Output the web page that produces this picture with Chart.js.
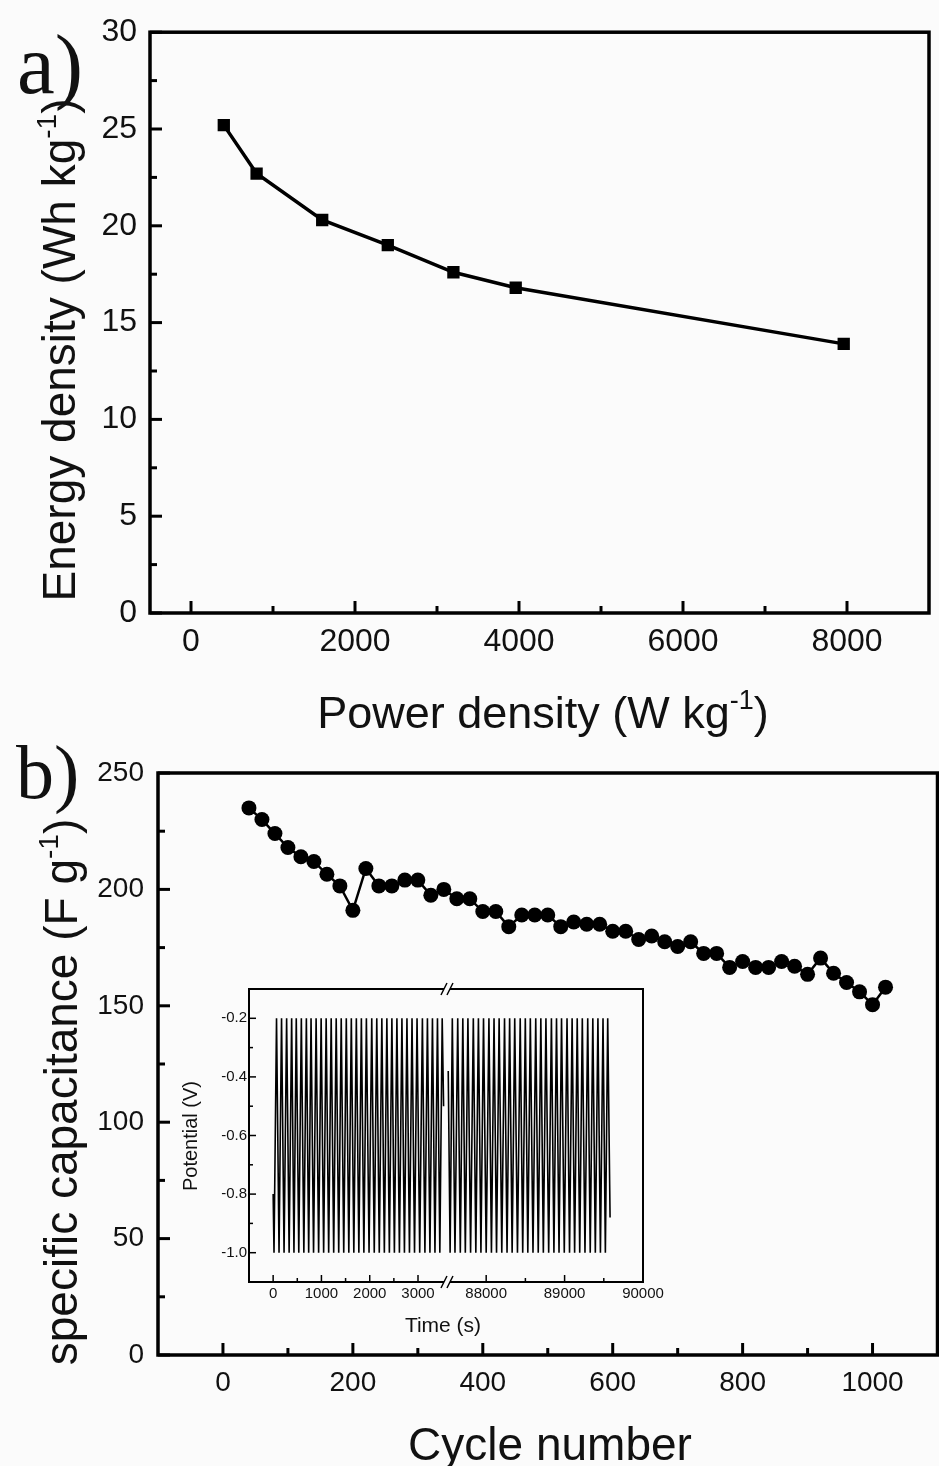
<!DOCTYPE html>
<html>
<head>
<meta charset="utf-8">
<script src="https://cdn.jsdelivr.net/npm/chart.js@4.4.0/dist/chart.umd.min.js"></script>
<style>
  html, body { margin: 0; padding: 0; background: #fbfbfb; overflow: hidden; width: 939px; height: 1466px; }
  canvas { position: absolute; }
  #chartA { left: 0; top: 0; }
  #chartB { left: 0; top: 740px; }
  #inset { left: 160px; top: 975px; }
</style>
</head>
<body>
<canvas id="chartA" width="939" height="740"></canvas>
<canvas id="chartB" width="945" height="726"></canvas>
<canvas id="inset" width="510" height="370"></canvas>
<script>
// a) energy density vs power density
const powerDensity = [400, 800, 1600, 2400, 3200, 3960, 7960];
const energyDensity = [25.2, 22.7, 20.3, 19.0, 17.6, 16.8, 13.9];
const aXTicks = [0, 2000, 4000, 6000, 8000];
const aXMinor = [1000, 3000, 5000, 7000];
const aYTicks = [0, 5, 10, 15, 20, 25, 30];
const aYMinor = [2.5, 7.5, 12.5, 17.5, 22.5, 27.5];

// b) cycling stability
const cycleNumber = [40, 60, 80, 100, 120, 140, 160, 180, 200, 220, 240, 260, 280, 300, 320, 340, 360, 380, 400, 420,
  440, 460, 480, 500, 520, 540, 560, 580, 600, 620, 640, 660, 680, 700, 720, 740, 760, 780, 800, 820,
  840, 860, 880, 900, 920, 940, 960, 980, 1000, 1020];
const capacitance = [235, 230, 224, 218, 214, 212, 206.5, 201.5, 191, 209, 201.5, 201.5, 204, 204, 197.5, 200, 196, 196, 190.5, 190.5,
  184, 189, 189, 189, 184, 186, 185, 185, 182, 182, 178.5, 180, 177.5, 175.5, 177.5, 172.5, 172.5, 166.5, 169, 166.5,
  166.5, 169, 167, 163.5, 170.5, 164, 160, 156, 150.5, 158];
const bXTicks = [0, 200, 400, 600, 800, 1000];
const bXMinor = [100, 300, 500, 700, 900];
const bYTicks = [0, 50, 100, 150, 200, 250];
const bYMinor = [25, 75, 125, 175, 225];

// inset: galvanostatic charge/discharge, turning points (s)
const V_LOW = -1.0;
const V_HIGH = -0.2;
const earlyStart = [0, -0.8];
const earlyTroughs = [18, 122, 226, 331, 431, 531, 636, 736, 837, 942, 1046, 1150, 1254, 1358, 1462, 1567, 1671,
  1775, 1879, 1986, 2094, 2198, 2303, 2407, 2511, 2615, 2719, 2823, 2928, 3035, 3143, 3247, 3351, 3452];
const earlyPeaks = [70, 174, 279, 383, 479, 584, 688, 785, 890, 994, 1098, 1202, 1306, 1410, 1515, 1619, 1723,
  1827, 1931, 2042, 2146, 2251, 2355, 2459, 2563, 2667, 2771, 2876, 2980, 3091, 3195, 3299, 3403, 3501];
const earlyEnd = [3530, -0.5];
const lateStart = [87516, -0.38];
const lateTroughs = [87540, 87602, 87670, 87734, 87801, 87868, 87933, 88000, 88067, 88132, 88199, 88266, 88331,
  88399, 88466, 88531, 88597, 88664, 88729, 88797, 88864, 88929, 88996, 89063, 89128, 89193, 89260, 89327, 89392,
  89457, 89520];
const latePeaks = [87568, 87637, 87702, 87767, 87836, 87901, 87966, 88035, 88100, 88165, 88234, 88299, 88364,
  88434, 88499, 88563, 88632, 88697, 88762, 88832, 88897, 88961, 89031, 89096, 89161, 89226, 89295, 89360, 89425,
  89490, 89550];
const lateEnd = [89580, -0.88];
const insetEarlyTicks = [0, 1000, 2000, 3000];
const insetEarlyMinor = [500, 1500, 2500];
const insetLateTicks = [88000, 89000, 90000];
const insetLateMinor = [88500, 89500];
const insetYTicks = [-1.0, -0.8, -0.6, -0.4, -0.2];
const insetYMinor = [-0.9, -0.7, -0.5, -0.3];

const SANS = '"Liberation Sans", Arial, sans-serif';
const SERIF = '"Liberation Serif", "Times New Roman", serif';
Chart.defaults.font.family = SANS;
Chart.defaults.color = '#111';
Chart.defaults.animation = false;
Chart.defaults.plugins.legend.display = false;
Chart.defaults.plugins.tooltip.enabled = false;

function toPoints(xs, ys) {
  return xs.map((x, i) => ({ x: x, y: ys[i] }));
}

function waveform(start, troughs, peaks, end) {
  const pts = [{ x: start[0], y: start[1] }];
  troughs.forEach((t, i) => {
    pts.push({ x: t, y: V_LOW });
    pts.push({ x: peaks[i], y: V_HIGH });
  });
  pts.push({ x: end[0], y: end[1] });
  return pts;
}

// linear axis with fixed tick values and a fixed box size
function axis(o) {
  const a = {
    type: 'linear',
    min: o.min,
    max: o.max,
    afterBuildTicks: s => { s.ticks = o.ticks.map(v => ({ value: v })); },
    afterFit: s => { if (s.isHorizontal()) s.height = o.size; else s.width = o.size; },
    grid: { display: false, drawTicks: false },
    border: { display: false },
    ticks: {
      font: { size: o.font },
      padding: o.pad,
      maxRotation: 0,
      autoSkip: false,
      color: '#111',
      callback: o.fmt || (v => String(v))
    }
  };
  return Object.assign(a, o.extra || {});
}

// text with superscript pieces, optionally rotated
function richText(ctx, parts, x, y, size, rotated) {
  ctx.save();
  ctx.translate(x, y);
  if (rotated) ctx.rotate(-Math.PI / 2);
  ctx.fillStyle = '#111';
  ctx.textBaseline = 'alphabetic';
  ctx.textAlign = 'left';
  const fonts = parts.map(p => (p.sup ? Math.round(size * 0.6) : size) + 'px ' + SANS);
  const widths = parts.map((p, i) => { ctx.font = fonts[i]; return ctx.measureText(p.t).width; });
  let cx = -widths.reduce((s, w) => s + w, 0) / 2;
  parts.forEach((p, i) => {
    ctx.font = fonts[i];
    ctx.fillText(p.t, cx, p.sup ? -size * 0.42 : 0);
    cx += widths[i];
  });
  ctx.restore();
}

function panelLabel(ctx, text, x, y, size) {
  ctx.save();
  ctx.font = size + 'px ' + SERIF;
  ctx.fillStyle = '#111';
  ctx.textBaseline = 'alphabetic';
  ctx.fillText(text, x, y);
  ctx.restore();
}

// frame box, inward tick marks, axis titles
function framePlugin(cfg) {
  return {
    id: 'frameTicks',
    afterDatasetsDraw(chart) {
      const ctx = chart.ctx;
      const a = chart.chartArea;
      ctx.save();
      ctx.strokeStyle = '#000';
      ctx.lineCap = 'butt';
      ctx.lineWidth = cfg.tickWidth;
      cfg.marks.forEach(m => {
        const s = chart.scales[m.id];
        [[m.major, cfg.majorLen], [m.minor, cfg.minorLen]].forEach(([vals, len]) => {
          vals.forEach(v => {
            const p = s.getPixelForValue(v);
            ctx.beginPath();
            if (s.isHorizontal()) {
              ctx.moveTo(p, a.bottom);
              ctx.lineTo(p, a.bottom - len);
            } else {
              ctx.moveTo(a.left, p);
              ctx.lineTo(a.left + len, p);
            }
            ctx.stroke();
          });
        });
      });
      ctx.lineWidth = cfg.frameWidth;
      if (cfg.breakAfter) {
        const xb = chart.scales[cfg.breakAfter].right;
        const g = 3;
        ctx.beginPath();
        ctx.moveTo(xb - g, a.top);
        ctx.lineTo(a.left, a.top);
        ctx.lineTo(a.left, a.bottom);
        ctx.lineTo(xb - g, a.bottom);
        ctx.moveTo(xb + g, a.bottom);
        ctx.lineTo(a.right, a.bottom);
        ctx.lineTo(a.right, a.top);
        ctx.lineTo(xb + g, a.top);
        ctx.stroke();
        ctx.lineWidth = 1.5;
        [a.top, a.bottom].forEach(y => {
          [-g, g].forEach(dx => {
            ctx.beginPath();
            ctx.moveTo(xb + dx - 3, y + 6);
            ctx.lineTo(xb + dx + 3, y - 6);
            ctx.stroke();
          });
        });
      } else {
        ctx.strokeRect(a.left, a.top, a.right - a.left, a.bottom - a.top);
      }
      ctx.restore();
    },
    afterDraw(chart) {
      if (cfg.labels) cfg.labels(chart.ctx);
    }
  };
}

// ---- chart a ----
new Chart(document.getElementById('chartA'), {
  type: 'scatter',
  data: {
    datasets: [{
      data: toPoints(powerDensity, energyDensity),
      showLine: true,
      borderColor: '#000',
      backgroundColor: '#000',
      borderWidth: 3.5,
      pointStyle: 'rect',
      pointRadius: 8.7,
      pointBorderWidth: 0
    }]
  },
  options: {
    responsive: false,
    devicePixelRatio: 1,
    layout: { padding: { top: 31, right: 10, left: 0, bottom: 0 } },
    scales: {
      x: axis({ min: -500, max: 9000, ticks: aXTicks, size: 127, font: 32, pad: 10 }),
      y: axis({ min: 0, max: 30, ticks: aYTicks, size: 150, font: 32, pad: 13 })
    }
  },
  plugins: [framePlugin({
    tickWidth: 3, frameWidth: 3.5, majorLen: 12, minorLen: 7,
    marks: [
      { id: 'x', major: aXTicks, minor: aXMinor },
      { id: 'y', major: aYTicks, minor: aYMinor }
    ],
    labels: ctx => {
      panelLabel(ctx, 'a)', 17, 93, 85);
      richText(ctx, [{ t: 'Energy density (Wh kg' }, { t: '-1', sup: true }, { t: ')' }], 75, 350, 46, true);
      richText(ctx, [{ t: 'Power density (W kg' }, { t: '-1', sup: true }, { t: ')' }], 543, 728, 45, false);
    }
  })]
});

// ---- chart b ----
new Chart(document.getElementById('chartB'), {
  type: 'scatter',
  data: {
    datasets: [{
      data: toPoints(cycleNumber, capacitance),
      showLine: true,
      borderColor: '#000',
      backgroundColor: '#000',
      borderWidth: 2.5,
      pointStyle: 'circle',
      pointRadius: 7.5,
      pointBorderWidth: 0
    }]
  },
  options: {
    responsive: false,
    devicePixelRatio: 1,
    layout: { padding: { top: 33, right: 4.5, left: 0, bottom: 0 } },
    scales: {
      x: axis({ min: -100, max: 1100, ticks: bXTicks, size: 111, font: 28, pad: 11 }),
      y: axis({ min: 0, max: 250, ticks: bYTicks, size: 158, font: 28, pad: 14 })
    }
  },
  plugins: [framePlugin({
    tickWidth: 3, frameWidth: 3.5, majorLen: 12, minorLen: 7,
    marks: [
      { id: 'x', major: bXTicks, minor: bXMinor },
      { id: 'y', major: bYTicks, minor: bYMinor }
    ],
    labels: ctx => {
      panelLabel(ctx, 'b)', 16, 58, 76);
      richText(ctx, [{ t: 'specific capacitance (F g' }, { t: '-1', sup: true }, { t: ')' }], 77, 352, 46, true);
      richText(ctx, [{ t: 'Cycle number' }], 550, 720, 46, false);
    }
  })]
});

// ---- inset: broken time axis ----
new Chart(document.getElementById('inset'), {
  type: 'scatter',
  data: {
    datasets: [{
      data: waveform(earlyStart, earlyTroughs, earlyPeaks, earlyEnd),
      xAxisID: 'xEarly',
      showLine: true,
      borderColor: '#000',
      borderWidth: 1.6,
      pointRadius: 0
    }, {
      data: waveform(lateStart, lateTroughs, latePeaks, lateEnd),
      xAxisID: 'xLate',
      showLine: true,
      borderColor: '#000',
      borderWidth: 1.6,
      pointRadius: 0
    }]
  },
  options: {
    responsive: false,
    devicePixelRatio: 1,
    layout: { padding: { top: 14, right: 27, left: 0, bottom: 0 } },
    scales: {
      xEarly: axis({ min: -500, max: 3600, ticks: insetEarlyTicks, size: 63, font: 15, pad: 3,
        extra: { position: 'bottom', stack: 'time', stackWeight: 1.01 } }),
      xLate: axis({ min: 87500, max: 90000, ticks: insetLateTicks, size: 63, font: 15, pad: 3,
        extra: { position: 'bottom', stack: 'time', stackWeight: 1 } }),
      y: axis({ min: -1.1, max: -0.1, ticks: insetYTicks, size: 89, font: 15, pad: 2,
        fmt: v => v.toFixed(1) })
    }
  },
  plugins: [framePlugin({
    tickWidth: 1.5, frameWidth: 2, majorLen: 7, minorLen: 4,
    breakAfter: 'xEarly',
    marks: [
      { id: 'xEarly', major: insetEarlyTicks, minor: insetEarlyMinor },
      { id: 'xLate', major: insetLateTicks, minor: insetLateMinor },
      { id: 'y', major: insetYTicks, minor: insetYMinor }
    ],
    labels: ctx => {
      richText(ctx, [{ t: 'Potential (V)' }], 37, 161, 20, true);
      richText(ctx, [{ t: 'Time (s)' }], 283, 357, 21, false);
    }
  })]
});
</script>
</body>
</html>
